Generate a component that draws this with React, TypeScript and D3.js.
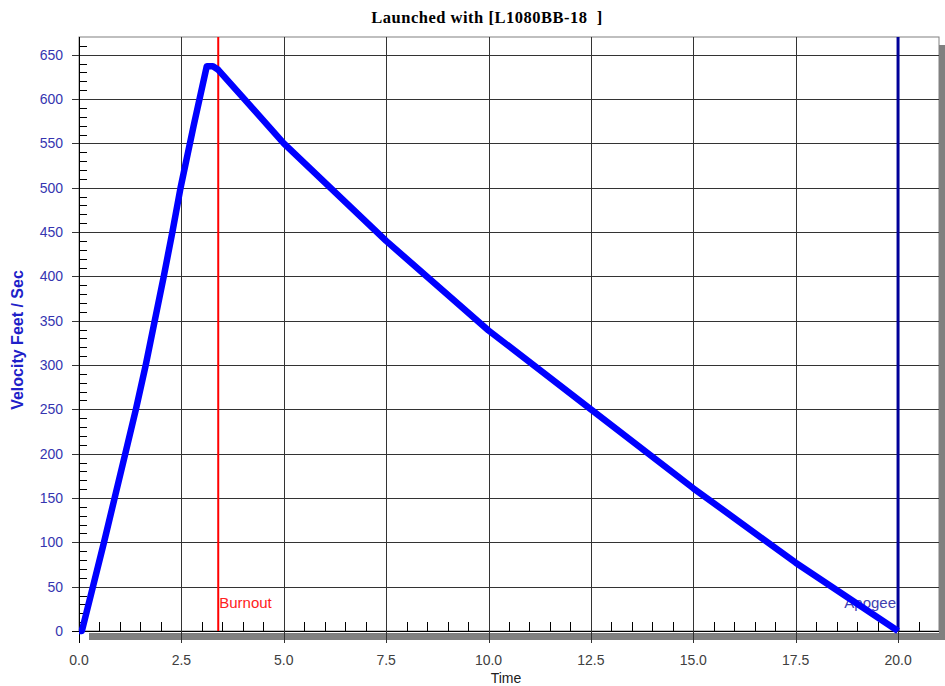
import React from 'react';
import * as d3 from 'd3';

// flight profile
const timeValues = [0, 0.07, 0.34, 0.61, 0.87, 1.13, 1.39, 1.63, 1.85, 2.07, 2.28, 2.48, 2.8, 3.12, 3.27, 3.4, 5.0, 7.5, 10.0, 12.5, 15.0, 17.5, 20.0];
const velocityValues = [0, 0, 50, 100, 150, 200, 250, 300, 350, 400, 450, 500, 570, 637, 637, 633, 550, 440, 339, 250, 161, 77, 0];

const xTickLabels = ['0.0', '2.5', '5.0', '7.5', '10.0', '12.5', '15.0', '17.5', '20.0'];
const yTickValues = [0, 50, 100, 150, 200, 250, 300, 350, 400, 450, 500, 550, 600, 650];

const burnoutTime = 3.4;
const apogeeTime = 20.0;
const titleText = 'Launched with [L1080BB-18  ]';

const W = 945;
const H = 686;
const margin = { top: 37, right: 6, bottom: 55, left: 79 };

const App = () => {
  const x = d3.scaleLinear().domain([0, 21]).range([margin.left, W - margin.right]);
  const y = d3.scaleLinear().domain([0, 670]).range([H - margin.bottom, margin.top]);

  const x0 = x(0);
  const x1 = x(21);
  const y0 = y(0);
  const y1 = y(670);

  const points = timeValues.map((t, i) => [t, velocityValues[i]] as [number, number]);
  const line = d3.line<[number, number]>().x(d => x(d[0])).y(d => y(d[1]));

  const xMajor = xTickLabels.map(s => parseFloat(s));
  const xMinor = d3.range(0.5, 21, 0.5).filter(v => Math.abs(v / 2.5 - Math.round(v / 2.5)) > 1e-6);
  const yMinor = d3.range(10, 670, 10).filter(v => v % 50 !== 0);

  return (
    <svg width={W} height={H} style={{ position: 'absolute', left: 0, top: 0, background: '#fff' }}
      fontFamily="Arial, 'Liberation Sans', sans-serif">
      <rect x={0} y={0} width={W} height={H} fill="#fff" />
      {/* title */}
      <text x={487} y={23} textAnchor="middle" fontFamily="'Liberation Serif', 'Times New Roman', serif"
        fontWeight="bold" fontSize={16.5} letterSpacing={0.5} fill="#000" style={{ whiteSpace: 'pre' }}>{titleText}</text>

      {/* drop shadow */}
      <rect x={x0 + 10} y={y0 + 2} width={x1 - x0 - 4} height={7} fill="#808080" />
      <rect x={x1} y={y1 + 8} width={6} height={y0 - y1 + 1} fill="#808080" />

      {/* plot frame */}
      <rect x={x0} y={y1} width={x1 - x0} height={y0 - y1} fill="#fff" stroke="#808080" strokeWidth={1} />

      {/* gridlines */}
      {yTickValues.map(v => (
        <line key={'gy' + v} x1={x0 - 7} x2={x1} y1={Math.round(y(v)) + 0.5} y2={Math.round(y(v)) + 0.5}
          stroke={v === 0 ? '#000' : '#333'} strokeWidth={1} />
      ))}
      {xMajor.map(v => (
        <line key={'gx' + v} x1={Math.round(x(v)) + 0.5} x2={Math.round(x(v)) + 0.5} y1={y1} y2={y0 + 12}
          stroke={v === 0 ? '#000' : '#333'} strokeWidth={1} />
      ))}

      {/* minor ticks */}
      {yMinor.map(v => (
        <line key={'my' + v} x1={x0} x2={x0 + 8} y1={Math.round(y(v)) + 0.5} y2={Math.round(y(v)) + 0.5}
          stroke="#000" strokeWidth={1} />
      ))}
      {xMinor.map(v => (
        <line key={'mx' + v} x1={Math.round(x(v)) + 0.5} x2={Math.round(x(v)) + 0.5} y1={y0} y2={y0 - 9}
          stroke="#000" strokeWidth={1} />
      ))}

      {/* tick labels */}
      {yTickValues.map(v => (
        <text key={'ly' + v} x={x0 - 16} y={y(v)} dy="0.35em" textAnchor="end" fontSize={14} fill="#3535b0">{v}</text>
      ))}
      {xTickLabels.map(s => (
        <text key={'lx' + s} x={x(parseFloat(s))} y={665} textAnchor="middle" fontSize={14} fill="#404040">{s}</text>
      ))}

      {/* axis titles */}
      <text x={506} y={683} textAnchor="middle" fontSize={14} fill="#202020">Time</text>
      <text transform={`translate(23,${340}) rotate(-90)`} textAnchor="middle" fontSize={16} fontWeight="bold"
        fill="#2020c8">Velocity Feet / Sec</text>

      {/* event markers */}
      <line x1={x(burnoutTime)} x2={x(burnoutTime)} y1={y1} y2={y0} stroke="#ff0000" strokeWidth={2} />
      <text x={x(burnoutTime) + 1} y={608} fontSize={15} fill="#ff2020">Burnout</text>
      <line x1={x(apogeeTime)} x2={x(apogeeTime)} y1={y1} y2={y0} stroke="#000099" strokeWidth={3} />
      <text x={x(apogeeTime) - 2} y={608} textAnchor="end" fontSize={15} fill="#4040b0">Apogee</text>

      {/* velocity curve */}
      <path d={line(points) || ''} fill="none" stroke="#0000ff" strokeWidth={6.5} strokeLinejoin="round" />
    </svg>
  );
};

export default App;
